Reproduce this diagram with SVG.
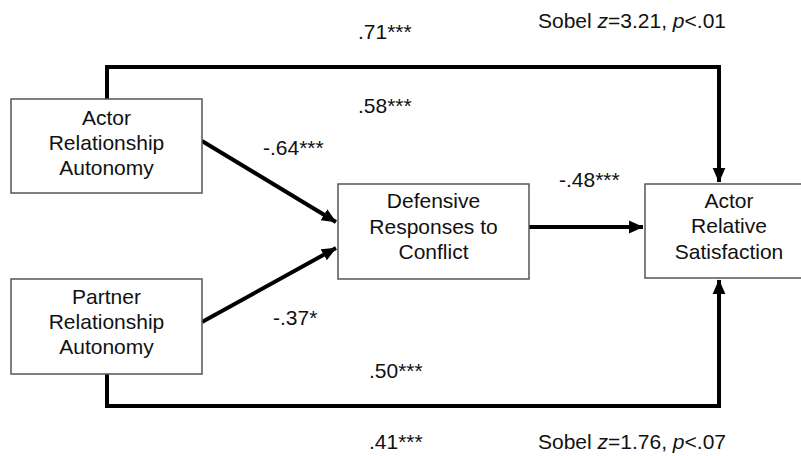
<svg xmlns="http://www.w3.org/2000/svg" width="801" height="456" viewBox="0 0 801 456">
<style>
.box{fill:#fff;stroke:#555;stroke-width:1.5}
.t{font-family:"Liberation Sans",Arial,sans-serif;font-size:21px;fill:#111;text-anchor:middle}
.l{font-family:"Liberation Sans",Arial,sans-serif;font-size:21px;fill:#111}
.c{fill:none;stroke:#000;stroke-width:4}
</style>
<defs>
<marker id="ah" markerWidth="4" markerHeight="4" refX="3.5" refY="2" orient="auto" markerUnits="strokeWidth" viewBox="0 0 4 4">
<path d="M0,0.4 L3.6,2 L0,3.6 Z" fill="#000"/>
</marker>
</defs>
<rect width="801" height="456" fill="#fff"/>
<g id="connectors">
<path class="c" d="M107,99 V67 H719 V182" marker-end="url(#ah)"/>
<path class="c" d="M107,374 V406 H719 V280" marker-end="url(#ah)"/>
<path class="c" d="M202,141 L336,222" marker-end="url(#ah)"/>
<path class="c" d="M202,322 L336,248" marker-end="url(#ah)"/>
<path class="c" d="M529,227 L643,227" marker-end="url(#ah)"/>
</g>
<g id="actor-autonomy">
<rect class="box" x="11" y="99" width="191" height="94"/>
<text class="t" x="106.5" y="125">Actor</text>
<text class="t" x="106.5" y="150">Relationship</text>
<text class="t" x="106.5" y="175">Autonomy</text>
</g>
<g id="partner-autonomy">
<rect class="box" x="11" y="279" width="191" height="95"/>
<text class="t" x="106.5" y="304">Partner</text>
<text class="t" x="106.5" y="329">Relationship</text>
<text class="t" x="106.5" y="354">Autonomy</text>
</g>
<g id="defensive">
<rect class="box" x="338" y="184" width="191" height="95"/>
<text class="t" x="433.5" y="208">Defensive</text>
<text class="t" x="433.5" y="234">Responses to</text>
<text class="t" x="433.5" y="259">Conflict</text>
</g>
<g id="satisfaction">
<rect class="box" x="645" y="184" width="168" height="94"/>
<text class="t" x="729" y="208">Actor</text>
<text class="t" x="729" y="233">Relative</text>
<text class="t" x="729" y="259">Satisfaction</text>
</g>
<g id="labels">
<text class="l" x="358" y="39">.71***</text>
<text class="l" x="538" y="28">Sobel <tspan font-style="italic">z</tspan>=3.21, <tspan font-style="italic">p</tspan>&lt;.01</text>
<text class="l" x="358" y="113">.58***</text>
<text class="l" x="263" y="155">-.64***</text>
<text class="l" x="559" y="187">-.48***</text>
<text class="l" x="273" y="325">-.37*</text>
<text class="l" x="369" y="378">.50***</text>
<text class="l" x="369" y="449">.41***</text>
<text class="l" x="538" y="449">Sobel <tspan font-style="italic">z</tspan>=1.76, <tspan font-style="italic">p</tspan>&lt;.07</text>
</g>
</svg>
